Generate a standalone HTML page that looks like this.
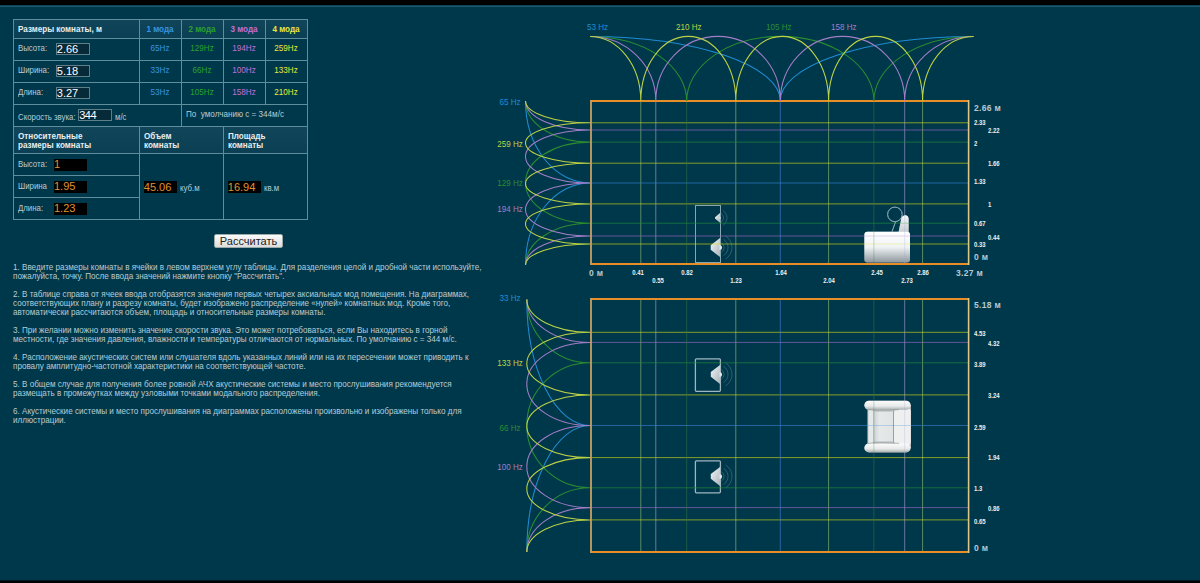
<!DOCTYPE html>
<html><head><meta charset="utf-8"><title>Room modes</title>
<style>
html,body{margin:0;padding:0}
body{width:1200px;height:583px;overflow:hidden;position:relative;background:#00384b;font-family:"Liberation Sans",sans-serif}
.t{position:absolute;white-space:nowrap;line-height:1}
</style></head><body>
<div style="position:absolute;left:0;top:0;width:1200px;height:5px;background:#000"></div>
<div style="position:absolute;left:0;top:5px;width:1200px;height:1px;background:#0c4456"></div><div style="position:absolute;left:0;top:6px;width:1200px;height:1px;background:#1a5a6a"></div>
<div style="position:absolute;left:0;top:580px;width:1200px;height:1px;background:#021a24"></div><div style="position:absolute;left:0;top:581px;width:1200px;height:2px;background:#000"></div>
<div style="position:absolute;left:13px;top:19px;width:294px;height:19px;background:linear-gradient(#11465a,#0b4054)"></div><div style="position:absolute;left:13px;top:126px;width:294px;height:27px;background:linear-gradient(#11465a,#0b4054)"></div><div style="position:absolute;left:13px;top:19px;width:295px;height:1px;background:#5e8e9c"></div><div style="position:absolute;left:13px;top:38px;width:295px;height:1px;background:#5e8e9c"></div><div style="position:absolute;left:13px;top:60px;width:295px;height:1px;background:#5e8e9c"></div><div style="position:absolute;left:13px;top:82px;width:295px;height:1px;background:#5e8e9c"></div><div style="position:absolute;left:13px;top:104px;width:295px;height:1px;background:#5e8e9c"></div><div style="position:absolute;left:13px;top:126px;width:295px;height:1px;background:#5e8e9c"></div><div style="position:absolute;left:13px;top:153px;width:295px;height:1px;background:#5e8e9c"></div><div style="position:absolute;left:13px;top:175px;width:127px;height:1px;background:#5e8e9c"></div><div style="position:absolute;left:13px;top:197px;width:127px;height:1px;background:#5e8e9c"></div><div style="position:absolute;left:13px;top:219px;width:295px;height:1px;background:#5e8e9c"></div><div style="position:absolute;left:13px;top:19px;width:1px;height:201px;background:#5e8e9c"></div><div style="position:absolute;left:307px;top:19px;width:1px;height:201px;background:#5e8e9c"></div><div style="position:absolute;left:139px;top:19px;width:1px;height:86px;background:#5e8e9c"></div><div style="position:absolute;left:139px;top:126px;width:1px;height:94px;background:#5e8e9c"></div><div style="position:absolute;left:181px;top:19px;width:1px;height:108px;background:#5e8e9c"></div><div style="position:absolute;left:223px;top:19px;width:1px;height:86px;background:#5e8e9c"></div><div style="position:absolute;left:223px;top:126px;width:1px;height:94px;background:#5e8e9c"></div><div style="position:absolute;left:265px;top:19px;width:1px;height:86px;background:#5e8e9c"></div><div class="t" style="left:18px;top:24.9px;color:#e6eef0;font-size:9px;font-weight:bold;transform:scaleX(0.9);transform-origin:0 0;">Размеры комнаты, м</div><div class="t" style="left:139px;top:24.9px;width:42px;text-align:center;color:#e6eef0;font-size:9px;font-weight:bold;transform:scaleX(0.9);transform-origin:0 0;color:#3494e6;transform-origin:50% 0">1 мода</div><div class="t" style="left:181px;top:24.9px;width:42px;text-align:center;color:#e6eef0;font-size:9px;font-weight:bold;transform:scaleX(0.9);transform-origin:0 0;color:#2aa12a;transform-origin:50% 0">2 мода</div><div class="t" style="left:223px;top:24.9px;width:42px;text-align:center;color:#e6eef0;font-size:9px;font-weight:bold;transform:scaleX(0.9);transform-origin:0 0;color:#c46fd6;transform-origin:50% 0">3 мода</div><div class="t" style="left:265px;top:24.9px;width:42px;text-align:center;color:#e6eef0;font-size:9px;font-weight:bold;transform:scaleX(0.9);transform-origin:0 0;color:#e8e83a;transform-origin:50% 0">4 мода</div><div class="t" style="left:18px;top:44px;color:#b9ccd4;font-size:9px;transform:scaleX(0.87);transform-origin:0 0;">Высота:</div><div style="position:absolute;left:56px;top:43px;width:34px;height:12px;background:#072a38;border:1px solid #5e7f8a;box-sizing:border-box"></div><div class="t" style="left:56.8px;top:44px;color:#fff;font-size:11px;">2.66</div><div class="t" style="left:139px;top:44px;width:42px;text-align:center;font-size:9px;transform:scaleX(0.9);color:#3494e6">65Hz</div><div class="t" style="left:181px;top:44px;width:42px;text-align:center;font-size:9px;transform:scaleX(0.9);color:#2aa12a">129Hz</div><div class="t" style="left:223px;top:44px;width:42px;text-align:center;font-size:9px;transform:scaleX(0.9);color:#c46fd6">194Hz</div><div class="t" style="left:265px;top:44px;width:42px;text-align:center;font-size:9px;transform:scaleX(0.9);color:#e8e83a">259Hz</div><div class="t" style="left:18px;top:66px;color:#b9ccd4;font-size:9px;transform:scaleX(0.87);transform-origin:0 0;">Ширина:</div><div style="position:absolute;left:56px;top:65px;width:34px;height:12px;background:#072a38;border:1px solid #5e7f8a;box-sizing:border-box"></div><div class="t" style="left:56.8px;top:66px;color:#fff;font-size:11px;">5.18</div><div class="t" style="left:139px;top:66px;width:42px;text-align:center;font-size:9px;transform:scaleX(0.9);color:#3494e6">33Hz</div><div class="t" style="left:181px;top:66px;width:42px;text-align:center;font-size:9px;transform:scaleX(0.9);color:#2aa12a">66Hz</div><div class="t" style="left:223px;top:66px;width:42px;text-align:center;font-size:9px;transform:scaleX(0.9);color:#c46fd6">100Hz</div><div class="t" style="left:265px;top:66px;width:42px;text-align:center;font-size:9px;transform:scaleX(0.9);color:#e8e83a">133Hz</div><div class="t" style="left:18px;top:88px;color:#b9ccd4;font-size:9px;transform:scaleX(0.87);transform-origin:0 0;">Длина:</div><div style="position:absolute;left:56px;top:87px;width:34px;height:12px;background:#072a38;border:1px solid #5e7f8a;box-sizing:border-box"></div><div class="t" style="left:56.8px;top:88px;color:#fff;font-size:11px;">3.27</div><div class="t" style="left:139px;top:88px;width:42px;text-align:center;font-size:9px;transform:scaleX(0.9);color:#3494e6">53Hz</div><div class="t" style="left:181px;top:88px;width:42px;text-align:center;font-size:9px;transform:scaleX(0.9);color:#2aa12a">105Hz</div><div class="t" style="left:223px;top:88px;width:42px;text-align:center;font-size:9px;transform:scaleX(0.9);color:#c46fd6">158Hz</div><div class="t" style="left:265px;top:88px;width:42px;text-align:center;font-size:9px;transform:scaleX(0.9);color:#e8e83a">210Hz</div><div class="t" style="left:18px;top:112.5px;color:#b9ccd4;font-size:9px;transform:scaleX(0.87);transform-origin:0 0;">Скорость звука:</div><div style="position:absolute;left:78px;top:109px;width:34px;height:12px;background:#072a38;border:1px solid #5e7f8a;box-sizing:border-box"></div><div class="t" style="left:79.2px;top:110.3px;color:#fff;font-size:11px;letter-spacing:-0.5px;">344</div><div class="t" style="left:115px;top:112.5px;color:#b9ccd4;font-size:9px;transform:scaleX(0.87);transform-origin:0 0;">м/с</div><div class="t" style="left:186px;top:109.5px;color:#b9ccd4;font-size:9px;transform:scaleX(0.87);transform-origin:0 0;transform:scaleX(0.9);">По&nbsp; умолчанию с = 344м/с</div><div class="t" style="left:18px;top:132px;color:#e6eef0;font-size:9px;font-weight:bold;transform:scaleX(0.9);transform-origin:0 0;line-height:9px;">Относительные<br>размеры комнаты</div><div class="t" style="left:144px;top:132px;color:#e6eef0;font-size:9px;font-weight:bold;transform:scaleX(0.9);transform-origin:0 0;line-height:9px;">Объем<br>комнаты</div><div class="t" style="left:228px;top:132px;color:#e6eef0;font-size:9px;font-weight:bold;transform:scaleX(0.9);transform-origin:0 0;line-height:9px;">Площадь<br>комнаты</div><div class="t" style="left:18px;top:159.7px;color:#b9ccd4;font-size:9px;transform:scaleX(0.87);transform-origin:0 0;">Высота:</div><div style="position:absolute;left:54px;top:159px;width:33px;height:12px;background:#000;"></div><div class="t" style="left:54px;top:158.7px;color:#e0922e;font-size:11px;">1</div><div class="t" style="left:18px;top:181.7px;color:#b9ccd4;font-size:9px;transform:scaleX(0.87);transform-origin:0 0;">Ширина</div><div style="position:absolute;left:54px;top:181px;width:33px;height:12px;background:#000;"></div><div class="t" style="left:54px;top:180.7px;color:#e0922e;font-size:11px;">1.95</div><div class="t" style="left:18px;top:203.7px;color:#b9ccd4;font-size:9px;transform:scaleX(0.87);transform-origin:0 0;">Длина:</div><div style="position:absolute;left:54px;top:203px;width:33px;height:12px;background:#000;"></div><div class="t" style="left:54px;top:202.7px;color:#e0922e;font-size:11px;">1.23</div><div style="position:absolute;left:144px;top:181px;width:33px;height:12px;background:#000;"></div><div class="t" style="left:143.8px;top:182px;color:#e0922e;font-size:11px;">45.06</div><div class="t" style="left:180px;top:184.3px;color:#b9ccd4;font-size:9px;transform:scaleX(0.87);transform-origin:0 0;">куб.м</div><div style="position:absolute;left:228px;top:181px;width:33px;height:12px;background:#000;"></div><div class="t" style="left:227.8px;top:182px;color:#e0922e;font-size:11px;">16.94</div><div class="t" style="left:264px;top:184px;color:#b9ccd4;font-size:9px;transform:scaleX(0.87);transform-origin:0 0;">кв.м</div><div style="position:absolute;left:214px;top:234px;width:69px;height:14px;border-radius:2px;background:linear-gradient(#fafafa,#dcdcdc);border:1px solid #9aa;box-sizing:border-box;font-size:11px;color:#222;text-align:center;line-height:13px">Рассчитать</div><div class="t" style="left:13px;top:263.2px;width:480px;font-size:9px;line-height:9px;transform:scaleX(0.9);transform-origin:0 0;color:#b8ccd4;white-space:nowrap">1. Введите размеры комнаты в ячейки в левом верхнем углу таблицы. Для разделения целой и дробной части используйте,<br>пожалуйста, точку. После ввода значений нажмите кнопку "Рассчитать".<br><br>2. В таблице справа от ячеек ввода отобразятся значения первых четырех аксиальных мод помещения. На диаграммах,<br>соответствующих плану и разрезу комнаты, будет изображено распределение «нулей» комнатных мод. Кроме того,<br>автоматически рассчитаются объем, площадь и относительные размеры комнаты.<br><br>3. При желании можно изменить значение скорости звука. Это может потребоваться, если Вы находитесь в горной<br>местности, где значения давления, влажности и температуры отличаются от нормальных. По умолчанию с = 344 м/с.<br><br>4. Расположение акустических систем или слушателя вдоль указанных линий или на их пересечении может приводить к<br>провалу амплитудно-частотной характеристики на соответствующей частоте.<br><br>5. В общем случае для получения более ровной АЧХ акустические системы и место прослушивания рекомендуется<br>размещать в промежутках между узловыми точками модального распределения.<br><br>6. Акустические системы и место прослушивания на диаграммах расположены произвольно и изображены только для<br>иллюстрации.</div><svg width="1200" height="583" style="position:absolute;left:0;top:0"><defs><linearGradient id="cg" x1="0" y1="0" x2="0" y2="1"><stop offset="0" stop-color="#ffffff"/><stop offset="0.5" stop-color="#f0f3f4"/><stop offset="1" stop-color="#8e989e"/></linearGradient><linearGradient id="bg2" x1="0" y1="0" x2="0" y2="1"><stop offset="0" stop-color="#f6f8f8"/><stop offset="1" stop-color="#c8ced2"/></linearGradient><linearGradient id="sg" x1="0" y1="0" x2="1" y2="1"><stop offset="0" stop-color="#f4f6f7"/><stop offset="1" stop-color="#aab4ba"/></linearGradient><linearGradient id="arm" x1="0" y1="0" x2="0" y2="1"><stop offset="0" stop-color="#fbfbfb"/><stop offset="0.6" stop-color="#e8eaea"/><stop offset="1" stop-color="#a8aeae"/></linearGradient><linearGradient id="seat" x1="0" y1="0" x2="1" y2="0"><stop offset="0" stop-color="#c9cfcf"/><stop offset="0.3" stop-color="#e6e9e9"/><stop offset="1" stop-color="#dfe3e3"/></linearGradient></defs><circle cx="894.9" cy="214.4" r="7.3" fill="none" stroke="#86a8b4" stroke-width="1"/><line x1="895.5" y1="222" x2="892" y2="231.5" stroke="#86a8b4" stroke-width="1"/><path d="M898.6,232 L901.4,218 Q902.5,215.2 905,215.2 Q908.6,215.4 908.6,219 L908.6,232 Z" fill="url(#bg2)"/><rect x="864.4" y="231.8" width="45.6" height="30.6" rx="3" fill="url(#cg)"/><rect x="867.5" y="405" width="43.5" height="43" fill="#aab1b2"/><rect x="868.3" y="408" width="5" height="37" fill="#e6e9e9"/><rect x="873.3" y="409.5" width="21" height="34" fill="url(#seat)"/><path d="M873.3,409.5 h21 v2.5 h-21 z M873.3,441 h21 v2.5 h-21 z" fill="#b9bfbf" opacity="0.6"/><rect x="893.5" y="408" width="17.3" height="37.5" rx="3.5" fill="#eef0f0"/><path d="M896.5,408.5 Q893.5,409 893.5,412 L893.5,441.5 Q893.5,444.5 896.5,445" fill="none" stroke="#8f9797" stroke-width="0.9"/><rect x="864.4" y="400.8" width="46.2" height="9" rx="4.5" fill="url(#arm)"/><rect x="864.4" y="443.4" width="46.2" height="9" rx="4.5" fill="url(#arm)"/><path d="M868,409.6 Q880,411 899,409.6 M868,443.4 Q880,442 899,443.4" fill="none" stroke="#7d8585" stroke-width="0.8" opacity="0.7"/><rect x="695.5" y="205.5" width="25" height="57" fill="none" stroke="#a6c0ca" stroke-opacity="0.8" stroke-width="1"/><path d="M720.0,213.1 L715.0,217.3 L715.0,218.5 L720.0,222.70000000000002 Z" fill="url(#sg)"/><path d="M719.5,216.70000000000002 A1.2,1.2 0 0 1 719.5,219.1 Z" fill="#dfe4e8"/><path d="M721.15,213.66 A5,5 0 0 1 721.15,222.14" fill="none" stroke="#a8c8d4" stroke-opacity="0.25" stroke-width="1"/><path d="M723.00,210.69 A8.5,8.5 0 0 1 723.00,225.11" fill="none" stroke="#a8c8d4" stroke-opacity="0.25" stroke-width="1"/><path d="M720.0,237.9 L710.7,245.3 L710.7,249.7 L720.0,257.1 Z" fill="url(#sg)"/><path d="M719.5,245.0 A2.5,2.5 0 0 1 719.5,250.0 Z" fill="#dfe4e8"/><path d="M721.41,242.84 A5.5,5.5 0 0 1 721.41,252.16" fill="none" stroke="#a8c8d4" stroke-opacity="0.25" stroke-width="1"/><path d="M723.53,239.44 A9.5,9.5 0 0 1 723.53,255.56" fill="none" stroke="#a8c8d4" stroke-opacity="0.25" stroke-width="1"/><path d="M725.65,236.05 A13.5,13.5 0 0 1 725.65,258.95" fill="none" stroke="#a8c8d4" stroke-opacity="0.25" stroke-width="1"/><rect x="695.4" y="358.8" width="25" height="32.5" rx="1" fill="none" stroke="#b8ccd4" stroke-opacity="0.85" stroke-width="1.3"/><path d="M720.0,364.9 L710.8,372.09999999999997 L710.8,376.7 L720.0,383.9 Z" fill="url(#sg)"/><path d="M719.5,371.9 A2.5,2.5 0 0 1 719.5,376.9 Z" fill="#dfe4e8"/><path d="M721.41,369.74 A5.5,5.5 0 0 1 721.41,379.06" fill="none" stroke="#a8c8d4" stroke-opacity="0.25" stroke-width="1"/><path d="M723.53,366.34 A9.5,9.5 0 0 1 723.53,382.46" fill="none" stroke="#a8c8d4" stroke-opacity="0.25" stroke-width="1"/><path d="M725.65,362.95 A13.5,13.5 0 0 1 725.65,385.85" fill="none" stroke="#a8c8d4" stroke-opacity="0.25" stroke-width="1"/><rect x="695.4" y="460.8" width="25" height="32" rx="1" fill="none" stroke="#b8ccd4" stroke-opacity="0.85" stroke-width="1.3"/><path d="M720.0,466.9 L710.8,474.09999999999997 L710.8,478.7 L720.0,485.9 Z" fill="url(#sg)"/><path d="M719.5,473.9 A2.5,2.5 0 0 1 719.5,478.9 Z" fill="#dfe4e8"/><path d="M721.41,471.74 A5.5,5.5 0 0 1 721.41,481.06" fill="none" stroke="#a8c8d4" stroke-opacity="0.25" stroke-width="1"/><path d="M723.53,468.34 A9.5,9.5 0 0 1 723.53,484.46" fill="none" stroke="#a8c8d4" stroke-opacity="0.25" stroke-width="1"/><path d="M725.65,464.95 A13.5,13.5 0 0 1 725.65,487.85" fill="none" stroke="#a8c8d4" stroke-opacity="0.25" stroke-width="1"/><line x1="640.8" y1="101" x2="640.8" y2="264" stroke="#96c475" stroke-opacity="0.6" stroke-width="1"/><line x1="640.8" y1="299" x2="640.8" y2="552" stroke="#96c475" stroke-opacity="0.6" stroke-width="1"/><line x1="735.8" y1="101" x2="735.8" y2="264" stroke="#96c475" stroke-opacity="0.6" stroke-width="1"/><line x1="735.8" y1="299" x2="735.8" y2="552" stroke="#96c475" stroke-opacity="0.6" stroke-width="1"/><line x1="828.6" y1="101" x2="828.6" y2="264" stroke="#96c475" stroke-opacity="0.6" stroke-width="1"/><line x1="828.6" y1="299" x2="828.6" y2="552" stroke="#96c475" stroke-opacity="0.6" stroke-width="1"/><line x1="922.6" y1="101" x2="922.6" y2="264" stroke="#96c475" stroke-opacity="0.6" stroke-width="1"/><line x1="922.6" y1="299" x2="922.6" y2="552" stroke="#96c475" stroke-opacity="0.6" stroke-width="1"/><line x1="590" y1="122.8" x2="968" y2="122.8" stroke="#d9e511" stroke-opacity="0.6" stroke-width="1"/><line x1="590" y1="163.2" x2="968" y2="163.2" stroke="#d9e511" stroke-opacity="0.6" stroke-width="1"/><line x1="590" y1="203.9" x2="968" y2="203.9" stroke="#d9e511" stroke-opacity="0.6" stroke-width="1"/><line x1="590" y1="244.0" x2="968" y2="244.0" stroke="#d9e511" stroke-opacity="0.6" stroke-width="1"/><line x1="590" y1="332.3" x2="968" y2="332.3" stroke="#d9e511" stroke-opacity="0.6" stroke-width="1"/><line x1="590" y1="394.9" x2="968" y2="394.9" stroke="#d9e511" stroke-opacity="0.6" stroke-width="1"/><line x1="590" y1="457.6" x2="968" y2="457.6" stroke="#d9e511" stroke-opacity="0.6" stroke-width="1"/><line x1="590" y1="519.9" x2="968" y2="519.9" stroke="#d9e511" stroke-opacity="0.6" stroke-width="1"/><line x1="655.8" y1="101" x2="655.8" y2="264" stroke="#a7a3d9" stroke-opacity="0.6" stroke-width="1"/><line x1="655.8" y1="299" x2="655.8" y2="552" stroke="#a7a3d9" stroke-opacity="0.6" stroke-width="1"/><line x1="904.7" y1="101" x2="904.7" y2="264" stroke="#a7a3d9" stroke-opacity="0.6" stroke-width="1"/><line x1="904.7" y1="299" x2="904.7" y2="552" stroke="#a7a3d9" stroke-opacity="0.6" stroke-width="1"/><line x1="590" y1="130.0" x2="968" y2="130.0" stroke="#a36ad0" stroke-opacity="0.6" stroke-width="1"/><line x1="590" y1="236.0" x2="968" y2="236.0" stroke="#a36ad0" stroke-opacity="0.6" stroke-width="1"/><line x1="590" y1="342.4" x2="968" y2="342.4" stroke="#a36ad0" stroke-opacity="0.6" stroke-width="1"/><line x1="590" y1="507.6" x2="968" y2="507.6" stroke="#a36ad0" stroke-opacity="0.6" stroke-width="1"/><line x1="686.7" y1="101" x2="686.7" y2="264" stroke="#327143" stroke-opacity="0.6" stroke-width="1"/><line x1="686.7" y1="299" x2="686.7" y2="552" stroke="#327143" stroke-opacity="0.6" stroke-width="1"/><line x1="873.9" y1="101" x2="873.9" y2="264" stroke="#327143" stroke-opacity="0.6" stroke-width="1"/><line x1="873.9" y1="299" x2="873.9" y2="552" stroke="#327143" stroke-opacity="0.6" stroke-width="1"/><line x1="590" y1="142.1" x2="968" y2="142.1" stroke="#21923a" stroke-opacity="0.6" stroke-width="1"/><line x1="590" y1="223.2" x2="968" y2="223.2" stroke="#21923a" stroke-opacity="0.6" stroke-width="1"/><line x1="590" y1="362.8" x2="968" y2="362.8" stroke="#21923a" stroke-opacity="0.6" stroke-width="1"/><line x1="590" y1="487.8" x2="968" y2="487.8" stroke="#21923a" stroke-opacity="0.6" stroke-width="1"/><line x1="780.3" y1="101" x2="780.3" y2="264" stroke="#4382d9" stroke-opacity="0.6" stroke-width="1"/><line x1="780.3" y1="299" x2="780.3" y2="552" stroke="#4382d9" stroke-opacity="0.6" stroke-width="1"/><line x1="590" y1="183.0" x2="968" y2="183.0" stroke="#3282d9" stroke-opacity="0.6" stroke-width="1"/><line x1="590" y1="425.5" x2="968" y2="425.5" stroke="#3282d9" stroke-opacity="0.6" stroke-width="1"/><g opacity="0.55"><circle cx="894.9" cy="214.4" r="7.3" fill="none" stroke="#86a8b4" stroke-width="1"/><line x1="895.5" y1="222" x2="892" y2="231.5" stroke="#86a8b4" stroke-width="1"/><path d="M898.6,232 L901.4,218 Q902.5,215.2 905,215.2 Q908.6,215.4 908.6,219 L908.6,232 Z" fill="url(#bg2)"/><rect x="864.4" y="231.8" width="45.6" height="30.6" rx="3" fill="url(#cg)"/><rect x="867.5" y="405" width="43.5" height="43" fill="#aab1b2"/><rect x="868.3" y="408" width="5" height="37" fill="#e6e9e9"/><rect x="873.3" y="409.5" width="21" height="34" fill="url(#seat)"/><path d="M873.3,409.5 h21 v2.5 h-21 z M873.3,441 h21 v2.5 h-21 z" fill="#b9bfbf" opacity="0.6"/><rect x="893.5" y="408" width="17.3" height="37.5" rx="3.5" fill="#eef0f0"/><path d="M896.5,408.5 Q893.5,409 893.5,412 L893.5,441.5 Q893.5,444.5 896.5,445" fill="none" stroke="#8f9797" stroke-width="0.9"/><rect x="864.4" y="400.8" width="46.2" height="9" rx="4.5" fill="url(#arm)"/><rect x="864.4" y="443.4" width="46.2" height="9" rx="4.5" fill="url(#arm)"/><path d="M868,409.6 Q880,411 899,409.6 M868,443.4 Q880,442 899,443.4" fill="none" stroke="#7d8585" stroke-width="0.8" opacity="0.7"/></g><path d="M591,101 L968,101 M591,264 L968,264" fill="none" stroke="#e88e26" stroke-width="2"/><path d="M591,100 L591,265" fill="none" stroke="#c9a062" stroke-width="1.8"/><path d="M968.6,100 L968.6,265" fill="none" stroke="#dcc688" stroke-width="1.6"/><path d="M591,299 L968,299 M591,552 L968,552" fill="none" stroke="#e88e26" stroke-width="2"/><path d="M591,298 L591,553" fill="none" stroke="#c9a062" stroke-width="1.8"/><path d="M968.6,298 L968.6,553" fill="none" stroke="#dcc688" stroke-width="1.6"/><path d="M590,36.4 A190.30,64.6 0 0 1 780.3,101 M780.3,101 A193.20,64.6 0 0 1 973.5,36.4 " fill="none" stroke="#1f8cd2" stroke-width="1.05"/><path d="M590,36.4 A96.70,64.6 0 0 1 686.7,101 M686.7,101 A93.60,64.6 0 0 1 873.9,101 M873.9,101 A99.60,64.6 0 0 1 973.5,36.4 " fill="none" stroke="#2a8c30" stroke-width="1.05"/><path d="M590,36.4 A65.80,64.6 0 0 1 655.8,101 M655.8,101 A62.25,64.6 0 0 1 780.3,101 M780.3,101 A62.20,64.6 0 0 1 904.7,101 M904.7,101 A68.80,64.6 0 0 1 973.5,36.4 " fill="none" stroke="#a27ec8" stroke-width="1.05"/><path d="M590,36.4 A50.80,64.6 0 0 1 640.8,101 M640.8,101 A47.50,64.6 0 0 1 735.8,101 M735.8,101 A46.40,64.6 0 0 1 828.6,101 M828.6,101 A47.00,64.6 0 0 1 922.6,101 M922.6,101 A50.90,64.6 0 0 1 973.5,36.4 " fill="none" stroke="#bcd246" stroke-width="1.05"/><path d="M525.5,101 A64.5,82.00 0 0 0 590,183.0 M590,183.0 A64.5,82.00 0 0 0 525.5,265 " fill="none" stroke="#1f8cd2" stroke-width="1.05"/><path d="M525.5,101 A64.5,41.10 0 0 0 590,142.1 M590,142.1 A64.5,40.55 0 0 0 590,223.2 M590,223.2 A64.5,41.80 0 0 0 525.5,265 " fill="none" stroke="#2a8c30" stroke-width="1.05"/><path d="M525.5,101 A64.5,29.00 0 0 0 590,130.0 M590,130.0 A64.5,26.50 0 0 0 590,183.0 M590,183.0 A64.5,26.50 0 0 0 590,236.0 M590,236.0 A64.5,29.00 0 0 0 525.5,265 " fill="none" stroke="#a27ec8" stroke-width="1.05"/><path d="M525.5,101 A64.5,21.80 0 0 0 590,122.8 M590,122.8 A64.5,20.20 0 0 0 590,163.2 M590,163.2 A64.5,20.35 0 0 0 590,203.9 M590,203.9 A64.5,20.05 0 0 0 590,244.0 M590,244.0 A64.5,21.00 0 0 0 525.5,265 " fill="none" stroke="#bcd246" stroke-width="1.05"/><path d="M526.8,299.5 A63.200000000000045,126.00 0 0 0 590,425.5 M590,425.5 A63.200000000000045,126.50 0 0 0 526.8,552 " fill="none" stroke="#1f8cd2" stroke-width="1.05"/><path d="M526.8,299.5 A63.200000000000045,63.30 0 0 0 590,362.8 M590,362.8 A63.200000000000045,62.50 0 0 0 590,487.8 M590,487.8 A63.200000000000045,64.20 0 0 0 526.8,552 " fill="none" stroke="#2a8c30" stroke-width="1.05"/><path d="M526.8,299.5 A63.200000000000045,42.90 0 0 0 590,342.4 M590,342.4 A63.200000000000045,41.55 0 0 0 590,425.5 M590,425.5 A63.200000000000045,41.05 0 0 0 590,507.6 M590,507.6 A63.200000000000045,44.40 0 0 0 526.8,552 " fill="none" stroke="#a27ec8" stroke-width="1.05"/><path d="M526.8,299.5 A63.200000000000045,32.80 0 0 0 590,332.3 M590,332.3 A63.200000000000045,31.30 0 0 0 590,394.9 M590,394.9 A63.200000000000045,31.35 0 0 0 590,457.6 M590,457.6 A63.200000000000045,31.15 0 0 0 590,519.9 M590,519.9 A63.200000000000045,32.10 0 0 0 526.8,552 " fill="none" stroke="#bcd246" stroke-width="1.05"/></svg><div class="t" style="left:587px;top:22.5px;font-size:9px;transform:scaleX(0.9);transform-origin:0 0;color:#1f8cd2">53 Hz</div><div class="t" style="left:676px;top:22.5px;font-size:9px;transform:scaleX(0.9);transform-origin:0 0;color:#bcd246">210 Hz</div><div class="t" style="left:765.5px;top:22.5px;font-size:9px;transform:scaleX(0.9);transform-origin:0 0;color:#2a8c30">105 Hz</div><div class="t" style="left:831px;top:22.5px;font-size:9px;transform:scaleX(0.9);transform-origin:0 0;color:#a27ec8">158 Hz</div><div class="t" style="left:480.2px;top:97.60000000000001px;width:60px;text-align:center;font-size:9px;transform:scaleX(0.9);transform-origin:50% 0;color:#1f8cd2">65 Hz</div><div class="t" style="left:480.2px;top:139.9px;width:60px;text-align:center;font-size:9px;transform:scaleX(0.9);transform-origin:50% 0;color:#bcd246">259 Hz</div><div class="t" style="left:480.2px;top:178.6px;width:60px;text-align:center;font-size:9px;transform:scaleX(0.9);transform-origin:50% 0;color:#2a8c30">129 Hz</div><div class="t" style="left:480.2px;top:204.70000000000002px;width:60px;text-align:center;font-size:9px;transform:scaleX(0.9);transform-origin:50% 0;color:#a27ec8">194 Hz</div><div class="t" style="left:480.2px;top:294.2px;width:60px;text-align:center;font-size:9px;transform:scaleX(0.9);transform-origin:50% 0;color:#1f8cd2">33 Hz</div><div class="t" style="left:480.2px;top:359.4px;width:60px;text-align:center;font-size:9px;transform:scaleX(0.9);transform-origin:50% 0;color:#bcd246">133 Hz</div><div class="t" style="left:480.2px;top:424.2px;width:60px;text-align:center;font-size:9px;transform:scaleX(0.9);transform-origin:50% 0;color:#2a8c30">66 Hz</div><div class="t" style="left:480.2px;top:462.9px;width:60px;text-align:center;font-size:9px;transform:scaleX(0.9);transform-origin:50% 0;color:#a27ec8">100 Hz</div><div class="t" style="left:618.3px;top:268.7px;width:40px;text-align:center;font-size:7px;color:#e8f0f2;font-weight:bold;transform:scaleX(0.85);transform-origin:0 0;transform-origin:50% 0;">0.41</div><div class="t" style="left:637.8px;top:276.6px;width:40px;text-align:center;font-size:7px;color:#e8f0f2;font-weight:bold;transform:scaleX(0.85);transform-origin:0 0;transform-origin:50% 0;">0.55</div><div class="t" style="left:666.9px;top:268.7px;width:40px;text-align:center;font-size:7px;color:#e8f0f2;font-weight:bold;transform:scaleX(0.85);transform-origin:0 0;transform-origin:50% 0;">0.82</div><div class="t" style="left:715.5px;top:276.6px;width:40px;text-align:center;font-size:7px;color:#e8f0f2;font-weight:bold;transform:scaleX(0.85);transform-origin:0 0;transform-origin:50% 0;">1.23</div><div class="t" style="left:760.6px;top:268.7px;width:40px;text-align:center;font-size:7px;color:#e8f0f2;font-weight:bold;transform:scaleX(0.85);transform-origin:0 0;transform-origin:50% 0;">1.64</div><div class="t" style="left:809.1px;top:276.6px;width:40px;text-align:center;font-size:7px;color:#e8f0f2;font-weight:bold;transform:scaleX(0.85);transform-origin:0 0;transform-origin:50% 0;">2.04</div><div class="t" style="left:857.2px;top:268.7px;width:40px;text-align:center;font-size:7px;color:#e8f0f2;font-weight:bold;transform:scaleX(0.85);transform-origin:0 0;transform-origin:50% 0;">2.45</div><div class="t" style="left:886.6px;top:276.6px;width:40px;text-align:center;font-size:7px;color:#e8f0f2;font-weight:bold;transform:scaleX(0.85);transform-origin:0 0;transform-origin:50% 0;">2.73</div><div class="t" style="left:902.5px;top:268.7px;width:40px;text-align:center;font-size:7px;color:#e8f0f2;font-weight:bold;transform:scaleX(0.85);transform-origin:0 0;transform-origin:50% 0;">2.86</div><div class="t" style="left:589px;top:268.5px;font-size:8.5px;color:#b4cad4;font-weight:bold;letter-spacing:0.3px;">0 м</div><div class="t" style="left:956px;top:269px;font-size:8.5px;color:#b4cad4;font-weight:bold;letter-spacing:0.3px;">3.27 м</div><div class="t" style="left:974px;top:119.2px;font-size:7px;color:#e8f0f2;font-weight:bold;transform:scaleX(0.85);transform-origin:0 0;">2.33</div><div class="t" style="left:988px;top:126.69999999999999px;font-size:7px;color:#e8f0f2;font-weight:bold;transform:scaleX(0.85);transform-origin:0 0;">2.22</div><div class="t" style="left:974px;top:140.0px;font-size:7px;color:#e8f0f2;font-weight:bold;transform:scaleX(0.85);transform-origin:0 0;">2</div><div class="t" style="left:988px;top:159.8px;font-size:7px;color:#e8f0f2;font-weight:bold;transform:scaleX(0.85);transform-origin:0 0;">1.66</div><div class="t" style="left:974px;top:178.4px;font-size:7px;color:#e8f0f2;font-weight:bold;transform:scaleX(0.85);transform-origin:0 0;">1.33</div><div class="t" style="left:988px;top:201.4px;font-size:7px;color:#e8f0f2;font-weight:bold;transform:scaleX(0.85);transform-origin:0 0;">1</div><div class="t" style="left:974px;top:220.3px;font-size:7px;color:#e8f0f2;font-weight:bold;transform:scaleX(0.85);transform-origin:0 0;">0.67</div><div class="t" style="left:988px;top:233.5px;font-size:7px;color:#e8f0f2;font-weight:bold;transform:scaleX(0.85);transform-origin:0 0;">0.44</div><div class="t" style="left:974px;top:241.1px;font-size:7px;color:#e8f0f2;font-weight:bold;transform:scaleX(0.85);transform-origin:0 0;">0.33</div><div class="t" style="left:974px;top:103.5px;font-size:8.5px;color:#b4cad4;font-weight:bold;letter-spacing:0.3px;">2.66 м</div><div class="t" style="left:974px;top:252.5px;font-size:8.5px;color:#b4cad4;font-weight:bold;letter-spacing:0.3px;">0 м</div><div class="t" style="left:974px;top:330.2px;font-size:7px;color:#e8f0f2;font-weight:bold;transform:scaleX(0.85);transform-origin:0 0;">4.53</div><div class="t" style="left:988px;top:339.9px;font-size:7px;color:#e8f0f2;font-weight:bold;transform:scaleX(0.85);transform-origin:0 0;">4.32</div><div class="t" style="left:974px;top:360.6px;font-size:7px;color:#e8f0f2;font-weight:bold;transform:scaleX(0.85);transform-origin:0 0;">3.89</div><div class="t" style="left:988px;top:391.8px;font-size:7px;color:#e8f0f2;font-weight:bold;transform:scaleX(0.85);transform-origin:0 0;">3.24</div><div class="t" style="left:974px;top:423.8px;font-size:7px;color:#e8f0f2;font-weight:bold;transform:scaleX(0.85);transform-origin:0 0;">2.59</div><div class="t" style="left:988px;top:453.5px;font-size:7px;color:#e8f0f2;font-weight:bold;transform:scaleX(0.85);transform-origin:0 0;">1.94</div><div class="t" style="left:974px;top:485.2px;font-size:7px;color:#e8f0f2;font-weight:bold;transform:scaleX(0.85);transform-origin:0 0;">1.3</div><div class="t" style="left:988px;top:504.8px;font-size:7px;color:#e8f0f2;font-weight:bold;transform:scaleX(0.85);transform-origin:0 0;">0.86</div><div class="t" style="left:974px;top:517.5px;font-size:7px;color:#e8f0f2;font-weight:bold;transform:scaleX(0.85);transform-origin:0 0;">0.65</div><div class="t" style="left:974px;top:300.5px;font-size:8.5px;color:#b4cad4;font-weight:bold;letter-spacing:0.3px;">5.18 м</div><div class="t" style="left:974px;top:543.5px;font-size:8.5px;color:#b4cad4;font-weight:bold;letter-spacing:0.3px;">0 м</div>
</body></html>
